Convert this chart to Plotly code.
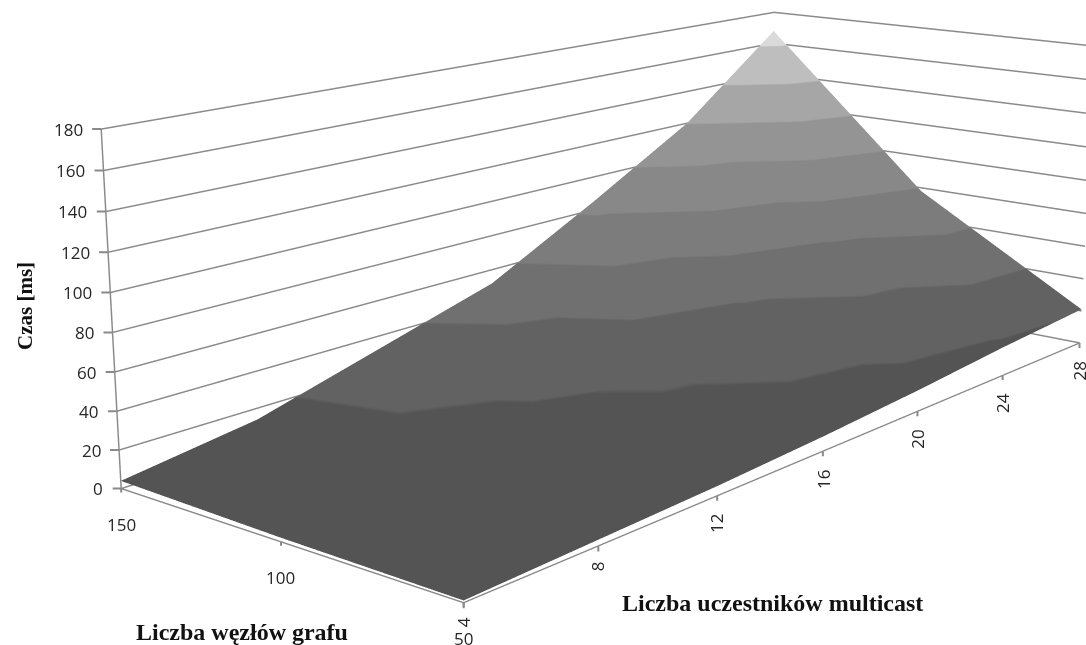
import plotly.graph_objects as go

participants = [4, 8, 12, 16, 20, 24, 28]
nodes = [50, 100, 150]
time_50 = [1, 3, 5, 8, 12, 17, 21]
time_100 = [2, 8, 15, 24, 36, 54, 78]
time_150 = [4, 14, 33, 52, 85, 120, 168]
z_ticks = list(range(0, 181, 20))
band_greys = ['#545454', '#626262', '#707070', '#7c7c7c', '#888888', '#949494', '#a6a6a6', '#bebebe', '#dadada']

# Plotly's field of view is fixed, so the figure is larger than the window and offset inside it
FW, FH = 1200, 1930
LEFT, TOP = -9, -644
def wx(x): return (x - LEFT) / FW
def wy(y): return 1 - (y - TOP) / FH

scale = []
for b, g in enumerate(band_greys):
    scale += [[b / 9, g], [(b + 1) / 9, g]]

LINE = '#8a8a8a'
INK = '#262626'
tf = dict(family='Open Sans', size=17, color=INK)
common = dict(showbackground=False, showline=True, linecolor=LINE, linewidth=3, title=dict(text=''),
              zeroline=False, showspikes=False, showticklabels=False, ticks='')

rows = [time_50, time_100, time_150]
vx = [p for n in nodes for p in participants]
vy = [n for n in nodes for p in participants]
vz = [v for row in rows for v in row]
nc = len(participants)
I, J, K = [], [], []
for r in range(len(nodes) - 1):
    for c in range(nc - 1):
        a = r * nc + c; b = a + 1; d = a + nc; e = d + 1
        I += [a, a]; J += [b, e]; K += [e, d]

fig = go.Figure(go.Mesh3d(x=vx, y=vy, z=vz, i=I, j=J, k=K, intensity=vz, colorscale=scale, cmin=0, cmax=180,
                          showscale=False, hoverinfo='skip', flatshading=True,
                          lighting=dict(ambient=0.45, diffuse=1.0, specular=0, roughness=1, fresnel=0),
                          lightposition=dict(x=3000, y=9000, z=3000)))

tick = dict(showarrow=True, arrowhead=0, arrowwidth=2, arrowcolor=LINE, xanchor='center', yanchor='middle')
scene_notes = []
for p in participants:
    off = 20 if p < 10 else 28
    scene_notes.append(dict(x=min(p, 27.99), y=50, z=0, text=str(p), textangle=-90, font=tf, ax=0, ay=off,
                            startstandoff=8 if p < 10 else 12, **tick))
for n in nodes:
    scene_notes.append(dict(x=4, y=n, z=0, text=str(n), font=tf, ax=0, ay=36, startstandoff=19, **tick))
for v in z_ticks:
    half = 5 * len(str(v))
    scene_notes.append(dict(x=4, y=150, z=v, text=str(v), font=tf, ax=-(18 + half), ay=0, startstandoff=8, **tick))

serif = dict(family='Liberation Serif', color='#111111')
fig.update_layout(width=FW, height=FH, margin=dict(l=0, r=0, t=0, b=0), paper_bgcolor='white', showlegend=False,
    scene=dict(domain=dict(x=[0, 1], y=[0, 1]), aspectmode='manual', aspectratio=dict(x=1, y=0.426, z=0.331),
        camera=dict(eye=dict(x=-1.757, y=-1.405, z=0.534), center=dict(x=-0.063, y=0.023, z=-0.065),
                    up=dict(x=0, y=0, z=1), projection=dict(type='perspective')),
        xaxis=dict(range=[4, 28], tickvals=participants, showgrid=False, **common),
        yaxis=dict(range=[50, 150], tickvals=nodes, showgrid=False, **common),
        zaxis=dict(range=[0, 180], tickvals=z_ticks, showgrid=True, gridcolor=LINE, gridwidth=3, **common),
        annotations=scene_notes),
    annotations=[
        dict(text='<b>Czas [ms]</b>', x=wx(25), y=wy(306), xref='paper', yref='paper', textangle=-90, showarrow=False,
             xanchor='center', yanchor='middle', font=dict(size=21, **serif)),
        dict(text='<b>Liczba węzłów grafu</b>', x=wx(242), y=wy(632), xref='paper', yref='paper', showarrow=False,
             xanchor='center', yanchor='middle', font=dict(size=24, **serif)),
        dict(text='<b>Liczba uczestników multicast</b>', x=wx(773), y=wy(603), xref='paper', yref='paper',
             showarrow=False, xanchor='center', yanchor='middle', font=dict(size=24, **serif)),
    ])
post = f"""document.documentElement.style.overflow='hidden';document.body.style.overflow='hidden';document.body.style.margin='0';
var gd=document.querySelector('.plotly-graph-div');gd.style.position='absolute';gd.style.left='{LEFT}px';gd.style.top='{TOP}px';"""
fig.write_html('out.html', post_script=post)
